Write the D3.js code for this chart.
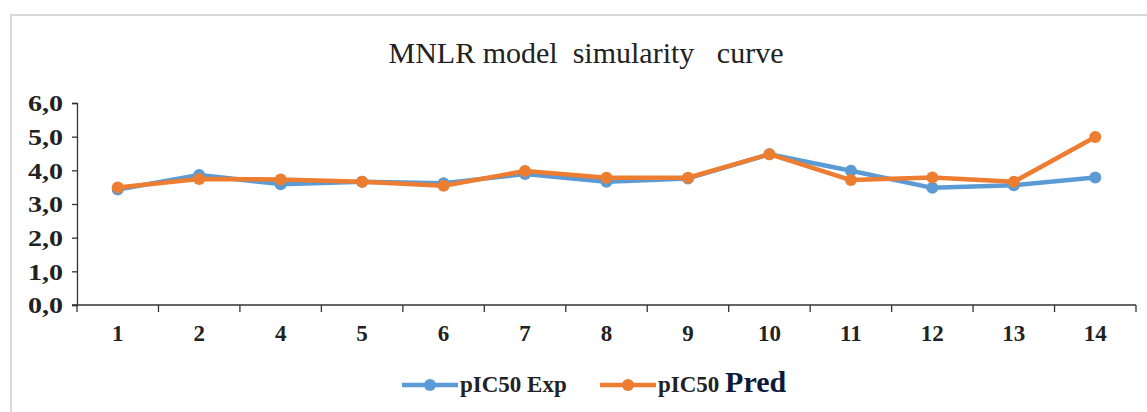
<!DOCTYPE html>
<html>
<head>
<meta charset="utf-8">
<script src="https://cdn.jsdelivr.net/npm/d3@7"></script>
<style>
	body { margin: 0; background: #fff; }
	svg text { font-family: "Liberation Serif", "Times New Roman", serif; fill: #222; }
</style>
</head>
<body>
<div id="chart"></div>
<script>
// Data
const categories = ["1", "2", "4", "5", "6", "7", "8", "9", "10", "11", "12", "13", "14"];
const expValues = [3.43, 3.86, 3.59, 3.66, 3.62, 3.89, 3.66, 3.76, 4.48, 3.99, 3.48, 3.56, 3.79];
const predValues = [3.49, 3.74, 3.73, 3.66, 3.54, 3.98, 3.78, 3.78, 4.48, 3.71, 3.79, 3.66, 4.99];
const yTicks = [0, 1, 2, 3, 4, 5, 6];

const seriesList = [
	{ name: "pIC50 Exp", values: expValues, color: "#5b9bd5" },
	{ name: "pIC50 Pred", values: predValues, color: "#ed7d31" }
];

const width = 1147, height = 412;
const margin = { top: 103, right: 11, bottom: 107, left: 77 };

const svg = d3.select("#chart")
	.append("svg")
	.attr("width", width)
	.attr("height", height);

// light frame of the chart area
svg.append("path")
	.attr("d", `M11,${height + 5} L11,15 L${width + 5},15`)
	.attr("fill", "none")
	.attr("stroke", "#d9d9d9")
	.attr("stroke-width", 2);

svg.append("text")
	.attr("x", 586)
	.attr("y", 63)
	.attr("text-anchor", "middle")
	.style("font-size", "30px")
	.style("white-space", "pre")
	.text("MNLR model  simularity   curve");

const x = d3.scaleBand()
	.domain(categories)
	.range([margin.left, width - margin.right]);

const y = d3.scaleLinear()
	.domain([0, 6])
	.range([height - margin.bottom, margin.top]);

const fmt = d => d.toFixed(1).replace(".", ",");

// y axis
const yAxis = svg.append("g")
	.attr("transform", `translate(${margin.left},0)`)
	.call(d3.axisLeft(y).tickValues(yTicks).tickFormat(fmt).tickSize(5).tickPadding(0));
yAxis.select(".domain").attr("stroke", "#333").attr("stroke-width", 1.3);
yAxis.selectAll(".tick line").attr("stroke", "#333").attr("stroke-width", 1.3);
yAxis.selectAll("text")
	.attr("x", 0)
	.attr("dy", "0.34em")
	.attr("transform", "translate(-14,0) scale(1.22,1)")
	.style("font-size", "23px")
	.style("font-weight", "bold")
	.attr("fill", "#222");

// x axis, ticks between categories like a category axis
const xAxisG = svg.append("g")
	.attr("transform", `translate(0,${y(0)})`);
xAxisG.append("line")
	.attr("x1", margin.left - 5)
	.attr("x2", width - margin.right)
	.attr("stroke", "#333")
	.attr("stroke-width", 1.3);
const boundaries = categories.map(c => x(c)).concat([x(categories[categories.length - 1]) + x.bandwidth()]);
xAxisG.selectAll(".xtick")
	.data(boundaries)
	.enter()
	.append("line")
	.attr("class", "xtick")
	.attr("x1", d => d)
	.attr("x2", d => d)
	.attr("y1", 0)
	.attr("y2", 7)
	.attr("stroke", "#333")
	.attr("stroke-width", 1.3);
xAxisG.selectAll(".xlabel")
	.data(categories)
	.enter()
	.append("text")
	.attr("class", "xlabel")
	.attr("x", d => x(d) + x.bandwidth() / 2)
	.attr("y", 36)
	.attr("text-anchor", "middle")
	.style("font-size", "23px")
	.style("font-weight", "bold")
	.text(d => d);

const line = d3.line()
	.x((d, i) => x(categories[i]) + x.bandwidth() / 2)
	.y(d => y(d));

seriesList.forEach(s => {
	const g = svg.append("g");
	g.append("path")
		.datum(s.values)
		.attr("fill", "none")
		.attr("stroke", s.color)
		.attr("stroke-width", 4.5)
		.attr("stroke-linejoin", "round")
		.attr("d", line);
	g.selectAll("circle")
		.data(s.values)
		.enter()
		.append("circle")
		.attr("cx", (d, i) => x(categories[i]) + x.bandwidth() / 2)
		.attr("cy", d => y(d))
		.attr("r", 6)
		.attr("fill", s.color);
});

// legend
const legendItems = [
	{ x: 402, s: seriesList[0] },
	{ x: 600, s: seriesList[1] }
];
legendItems.forEach(item => {
	const g = svg.append("g").attr("transform", `translate(${item.x},385)`);
	g.append("line")
		.attr("x1", 0).attr("x2", 56)
		.attr("stroke", item.s.color)
		.attr("stroke-width", 4.5);
	g.append("circle")
		.attr("cx", 28).attr("r", 6)
		.attr("fill", item.s.color);
	const t = g.append("text")
		.attr("x", 58)
		.attr("y", 7)
		.style("font-size", "23px")
		.style("font-weight", "bold");
	if (item.s.name === "pIC50 Pred") {
		t.append("tspan").text("pIC50 ");
		t.append("tspan").style("font-size", "30px").attr("fill", "#0d1a3a").text("Pred");
	} else {
		t.text(item.s.name);
	}
});
</script>
</body>
</html>
